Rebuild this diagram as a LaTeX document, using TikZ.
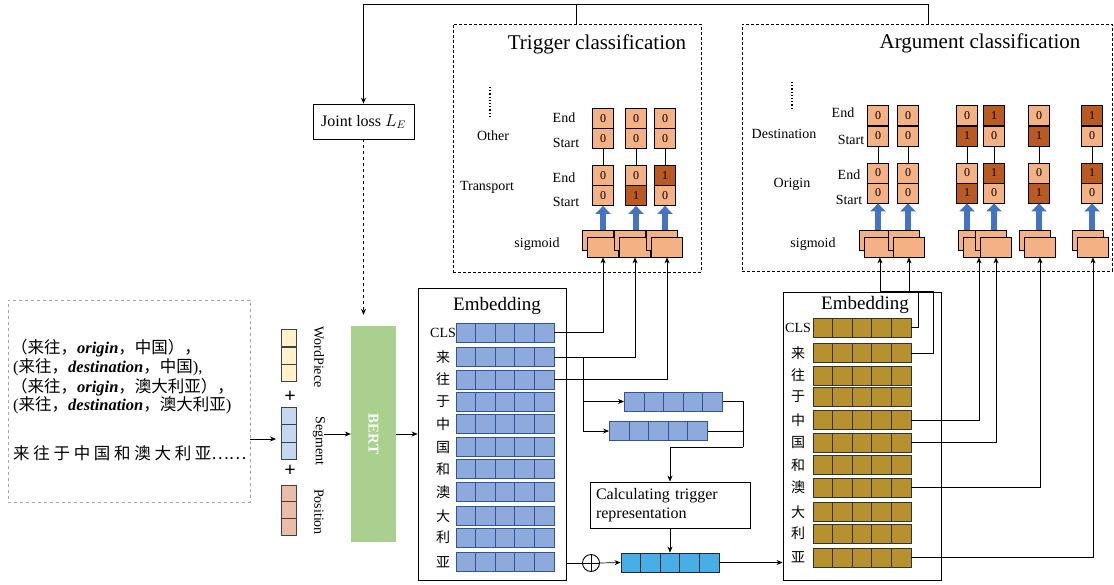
\documentclass[tikz,border=0pt]{standalone}
\usepackage{fontspec}
\setmainfont{Liberation Serif}
\newfontfamily\cjk{Noto Sans CJK SC}
\usetikzlibrary{calc,arrows.meta,positioning}
\tikzset{>={Stealth[length=6pt,width=5pt]}}

\definecolor{wpiece}{HTML}{FFF2CC}
\definecolor{segc}{HTML}{C5D8EF}
\definecolor{posc}{HTML}{EBBCA7}
\definecolor{bertc}{HTML}{A9D08E}
\definecolor{embl}{HTML}{8EA9DB}
\definecolor{embd}{HTML}{2F5597}
\definecolor{embg}{HTML}{B8912F}
\definecolor{trepc}{HTML}{47AEE6}
\definecolor{lcell}{HTML}{F4B183}
\definecolor{dcell}{HTML}{B85A22}
\definecolor{barrow}{HTML}{4472C4}

\newcommand{\zh}[1]{{\cjk #1}}
\newcommand{\fs}[1]{\fontsize{#1}{#1}\selectfont}

\tikzset{
  conn/.style={line width=0.7pt},
  dbox/.style={draw, dash pattern=on 3pt off 2pt, line width=0.8pt, inner sep=0},
  c0/.style={draw, line width=0.8pt, fill=lcell, minimum width=21pt, minimum height=20pt, inner sep=0, font=\fs{12}},
  c1/.style={c0, fill=dcell},
  sig/.style={draw, line width=0.8pt, fill=lcell, minimum width=31pt, minimum height=20pt, inner sep=0},
  blk/.style={draw=barrow, line width=6pt, -{Triangle[width=15pt,length=8pt]}},
  vec/.style={draw=#1, line width=0.9pt, minimum width=98pt, minimum height=19pt, inner sep=0,
    path picture={\foreach \k in {1,...,4}
      \draw[#1, line width=0.9pt]
        ($(path picture bounding box.south west)!\k/5!(path picture bounding box.south east)$) --
        ($(path picture bounding box.north west)!\k/5!(path picture bounding box.north east)$);}},
  sq/.style={draw=black!75, line width=0.8pt, minimum width=15pt, minimum height=17.5pt, inner sep=0},
}

\begin{document}
\begin{tikzpicture}[x=1pt, y=-1pt, font=\fs{14}]
\useasboundingbox (0,0) rectangle (1114,584);

% input sentence and triples
\node[draw=gray!70, dashed, line width=0.7pt, minimum width=242pt, minimum height=202pt, inner sep=0] (inbox) at (129,401) {};
\begin{scope}[font=\fs{16.5}, inner sep=0]
  \node[anchor=west] (tx1) at (11,348) {\zh{（来往，}\textbf{\textit{origin}}\zh{，中国），}};
  \node[anchor=west] (tx2) at (13,367) {(\zh{来往，}\textbf{\textit{destination}}\zh{，中国}),};
  \node[anchor=west] (tx3) at (11,387) {\zh{（来往，}\textbf{\textit{origin}}\zh{，澳大利亚），}};
  \node[anchor=west] (tx4) at (13,405) {(\zh{来往，}\textbf{\textit{destination}}\zh{，澳大利亚})};
  \node[anchor=west] (tx5) at (13,453) {\zh{来 往 于 中 国 和 澳 大 利 亚……}};
\end{scope}

% input embeddings
\foreach \i/\y in {1/338,2/356,3/373} \node[sq, fill=wpiece] (wp\i) at (288.5,\y) {};
\foreach \i/\y in {1/416,2/433.5,3/451} \node[sq, fill=segc] (sg\i) at (288.5,\y) {};
\foreach \i/\y in {1/494,2/510.5,3/527} \node[sq, fill=posc] (ps\i) at (288.5,\y) {};
\node[font=\bfseries\fs{20}] (pl1) at (290,397) {+};
\node[font=\bfseries\fs{20}] (pl2) at (290,471) {+};
\node[rotate=-90] (wpl) at (319,357) {WordPiece};
\node[rotate=-90] (sgl) at (319,441) {Segment};
\node[rotate=-90] (psl) at (319,512) {Position};
\coordinate (inp) at (276,439);
\draw[conn,->] (inbox.east |- inp) -- (inp);

% BERT
\node[fill=bertc, minimum width=45pt, minimum height=216pt, inner sep=0] (bert) at (373.5,434) {};
\node[rotate=-90, text=white, font=\bfseries\fs{15}] (bertl) at (bert) {BERT};
\coordinate (sgo) at (324,434);
\draw[conn,->] (sgo) -- (bert.west);

% joint loss
\node[draw, line width=0.8pt, minimum width=101pt, minimum height=35pt, font=\fs{16}] (jl) at (363.5,121.5) {Joint loss $L_E$};
\draw[conn, dashed, ->, shorten >=11pt] (jl.south) -- (jl.south |- bert.north);

% left embedding
\node[draw, line width=0.9pt, minimum width=148pt, minimum height=292pt, inner sep=0] (lbox) at (492,434) {};
\draw[conn,->] (bert.east) -- (bert.east -| lbox.west);
\node[font=\fs{19}] (lttl) at (497,306) {Embedding};
\foreach \n/\y/\t in {0/332.5/CLS, 1/357/\zh{来}, 2/379.5/\zh{往}, 3/401.5/\zh{于}, 4/424/\zh{中}, 5/447/\zh{国},
    6/469/\zh{和}, 7/492/\zh{澳}, 8/516/\zh{大}, 9/537.5/\zh{利}, 10/562/\zh{亚}} {
  \node[vec=embd, fill=embl] (le\n) at (505,\y) {};
  \node (lel\n) at (443,\y) {\t};
}

% trigger representation
\node[vec=embd, fill=embl] (s1) at (673.5,401.5) {};
\node[vec=embd, fill=embl] (s2) at (658.5,431) {};
\coordinate (br) at (583,357);
\draw[conn,->] (br) |- (s1.west);
\draw[conn,->] (br) |- (s2.west);
\node[draw, line width=0.8pt, minimum width=160pt, minimum height=46pt, align=left, text width=148pt,
  font=\fontsize{16}{19}\selectfont] (calc) at (670,505) {Calculating trigger\\representation};
\coordinate (mg) at (743,447);
\draw[conn] (s1.east) -| (mg);
\draw[conn] (s2.east) -- (s2.east -| mg);
\draw[conn,->] (mg) -| (calc.north);
\node[vec=black!85, fill=trepc] (tv) at (670,562.5) {};
\draw[conn,->] (calc.south) -- (tv.north);
\node[circle, draw, line width=0.9pt, minimum size=17pt, inner sep=0] (op) at (591,563) {};
\draw[line width=0.9pt] (op.north) -- (op.south) (op.west) -- (op.east);
\draw[conn] (op.west -| lbox.east) -- (op.west);
\draw[conn,->] (op.east) -- (tv.west);

% right embedding
\node[draw, line width=0.9pt, minimum width=158pt, minimum height=288pt, inner sep=0] (rbox) at (862,436) {};
\draw[conn,->] (tv.east) -- (tv.east -| rbox.west);
\node[font=\fs{19}] (rttl) at (865,305) {Embedding};
\foreach \n/\y/\t in {0/327.5/CLS, 1/353/\zh{来}, 2/375.5/\zh{往}, 3/396.5/\zh{于}, 4/420/\zh{中}, 5/442.5/\zh{国},
    6/465/\zh{和}, 7/487.5/\zh{澳}, 8/512/\zh{大}, 9/533.5/\zh{利}, 10/557.5/\zh{亚}} {
  \node[vec=black!80, fill=embg] (re\n) at (862,\y) {};
  \node (rel\n) at (798,\y) {\t};
}

% trigger classification
\node[dbox, minimum width=248pt, minimum height=248pt] (tbox) at (577,148) {};
\node[font=\fs{21}] (tttl) at (597,44) {Trigger classification};
\draw[dotted, line width=1.2pt] (490,87) -- (490,117);
\node (toth) at (493,136) {Other};
\node (ttra) at (487,187) {Transport};
\node (te1) at (564,118) {End};
\node (ts1) at (566,143) {Start};
\node (te2) at (564,178) {End};
\node (ts2) at (566,202) {Start};
\node (tsig) at (537,244) {sigmoid};
\foreach \i/\x/\ax/\a/\b/\p/\q in {1/603/603/0/0/0/0, 2/636/635/0/0/0/1, 3/665/667/0/0/1/0} {
  \node[c\a] (toe\i) at (\x,118.5) {\a};
  \node[c\b] (tos\i) at (\x,138.5) {\b};
  \node[c\p] (tte\i) at (\x,175.5) {\p};
  \node[c\q] (tts\i) at (\x,195.5) {\q};
  \draw[conn] (tos\i) -- (tte\i);
  \node[sig] (tsb\i) at (\ax-5,240) {};
  \node[sig] (tsf\i) at (\ax,247) {};
  \draw[blk] (tsb\i.north -| tts\i) -- (tts\i.south);
}
\draw[conn,->] (le0.east) -| (tsf1.south);
\draw[conn,->] (le1.east) -| (tsf2.south);
\draw[conn,->] (le2.east) -| (tsf3.south);

% argument classification
\node[dbox, minimum width=370pt, minimum height=247pt] (abox) at (927,147.5) {};
\node[font=\fs{21}] (attl) at (980,43) {Argument classification};
\draw[dotted, line width=1.2pt] (792,82) -- (792,110);
\node (ades) at (784,134) {Destination};
\node (aori) at (792,184) {Origin};
\node (ae1) at (843,113) {End};
\node (as1) at (851,140) {Start};
\node (ae2) at (849,175) {End};
\node (as2) at (849,200) {Start};
\node (asig) at (813,244) {sigmoid};
\foreach \i/\x/\ax/\a/\b/\p/\q in {1/878/880/0/0/0/0, 2/908/909/0/0/0/0, 3/967/979/0/1/0/1,
    4/994/996/1/0/1/0, 5/1039/1040/0/1/0/1, 6/1092/1093/1/0/1/0} {
  \node[c\a] (ade\i) at (\x,115.5) {\a};
  \node[c\b] (ads\i) at (\x,136) {\b};
  \node[c\p] (aoe\i) at (\x,173) {\p};
  \node[c\q] (aos\i) at (\x,193) {\q};
  \draw[conn] (ads\i) -- (aoe\i);
  \node[sig] (asb\i) at (\ax-5,240) {};
  \node[sig] (asf\i) at (\ax,247) {};
  \draw[blk] (asb\i.north -| aos\i) -- (aos\i.south);
}
\coordinate (k1) at (918,291);
\coordinate (k2) at (933,291);
\draw[conn,->] (re0.east) -| (k1) -| (asf1.south);
\draw[conn,->] (re1.east) -| (k2) -| (asf2.south);
\draw[conn,->] (re4.east) -| (asf3.south);
\draw[conn,->] (re5.east) -| (asf4.south);
\draw[conn,->] (re7.east) -| (asf5.south);
\draw[conn,->] (re10.east) -| (asf6.south);

% loss feedback
\coordinate (topr) at (928,4);
\coordinate (topm) at (576,4);
\draw[conn,->] (topr |- abox.north) -- (topr) -| (jl.north);
\draw[conn] (topm |- tbox.north) -- (topm);
\end{tikzpicture}
\end{document}
